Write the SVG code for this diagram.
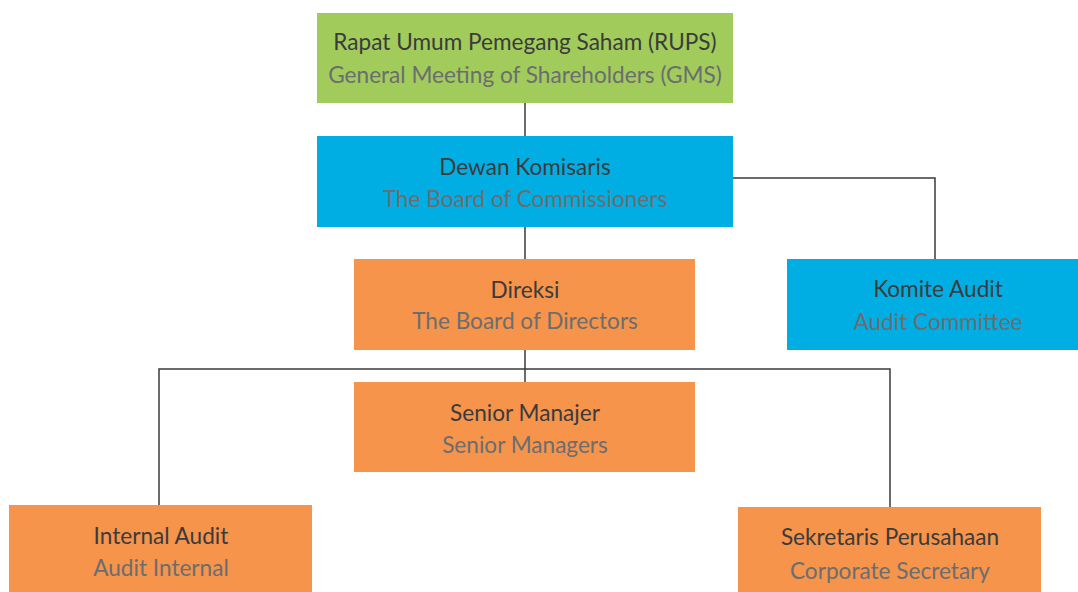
<svg xmlns="http://www.w3.org/2000/svg" width="1078" height="592" viewBox="0 0 1078 592">
<style>
.t1{font-family:"Lato","Liberation Sans",sans-serif;font-size:22.6px;fill:#3b3b3d;text-anchor:middle}
.t2{font-family:"Lato","Liberation Sans",sans-serif;font-size:22.6px;fill:#6b6d70;text-anchor:middle}
.g{fill:#a1cb5a}
.b{fill:#00aee3}
.o{fill:#f5944a}
.ln{fill:none;stroke:#3a3a3a;stroke-width:1.5}
</style>
<rect width="1078" height="592" fill="#ffffff"/>
<g id="connectors">
<line class="ln" x1="525" y1="103" x2="525" y2="136"/>
<polyline class="ln" points="733,178 935,178 935,259"/>
<line class="ln" x1="525" y1="227" x2="525" y2="259"/>
<line class="ln" x1="525" y1="350" x2="525" y2="382"/>
<polyline class="ln" points="159,505 159,369 890,369 890,507"/>
</g>
<g id="rups">
<rect class="g" x="317" y="13" width="416" height="90"/>
<text class="t1" x="525" y="50">Rapat Umum Pemegang Saham (RUPS)</text>
<text class="t2" x="525" y="83">General Meeting of Shareholders (GMS)</text>
</g>
<g id="dewan">
<rect class="b" x="317" y="136" width="416" height="91"/>
<text class="t1" x="525" y="175">Dewan Komisaris</text>
<text class="t2" x="525" y="207">The Board of Commissioners</text>
</g>
<g id="komite">
<rect class="b" x="787" y="259" width="300" height="91"/>
<text class="t1" x="938" y="297">Komite Audit</text>
<text class="t2" x="938" y="330">Audit Committee</text>
</g>
<g id="direksi">
<rect class="o" x="354" y="259" width="341" height="91"/>
<text class="t1" x="525" y="298">Direksi</text>
<text class="t2" x="525" y="329">The Board of Directors</text>
</g>
<g id="senior">
<rect class="o" x="354" y="382" width="341" height="90"/>
<text class="t1" x="525" y="421">Senior Manajer</text>
<text class="t2" x="525" y="453">Senior Managers</text>
</g>
<g id="internal">
<rect class="o" x="9" y="505" width="303" height="87"/>
<text class="t1" x="161" y="544">Internal Audit</text>
<text class="t2" x="161" y="576">Audit Internal</text>
</g>
<g id="sekretaris">
<rect class="o" x="738" y="507" width="303" height="85"/>
<text class="t1" x="890" y="545">Sekretaris Perusahaan</text>
<text class="t2" x="890" y="579">Corporate Secretary</text>
</g>
</svg>
